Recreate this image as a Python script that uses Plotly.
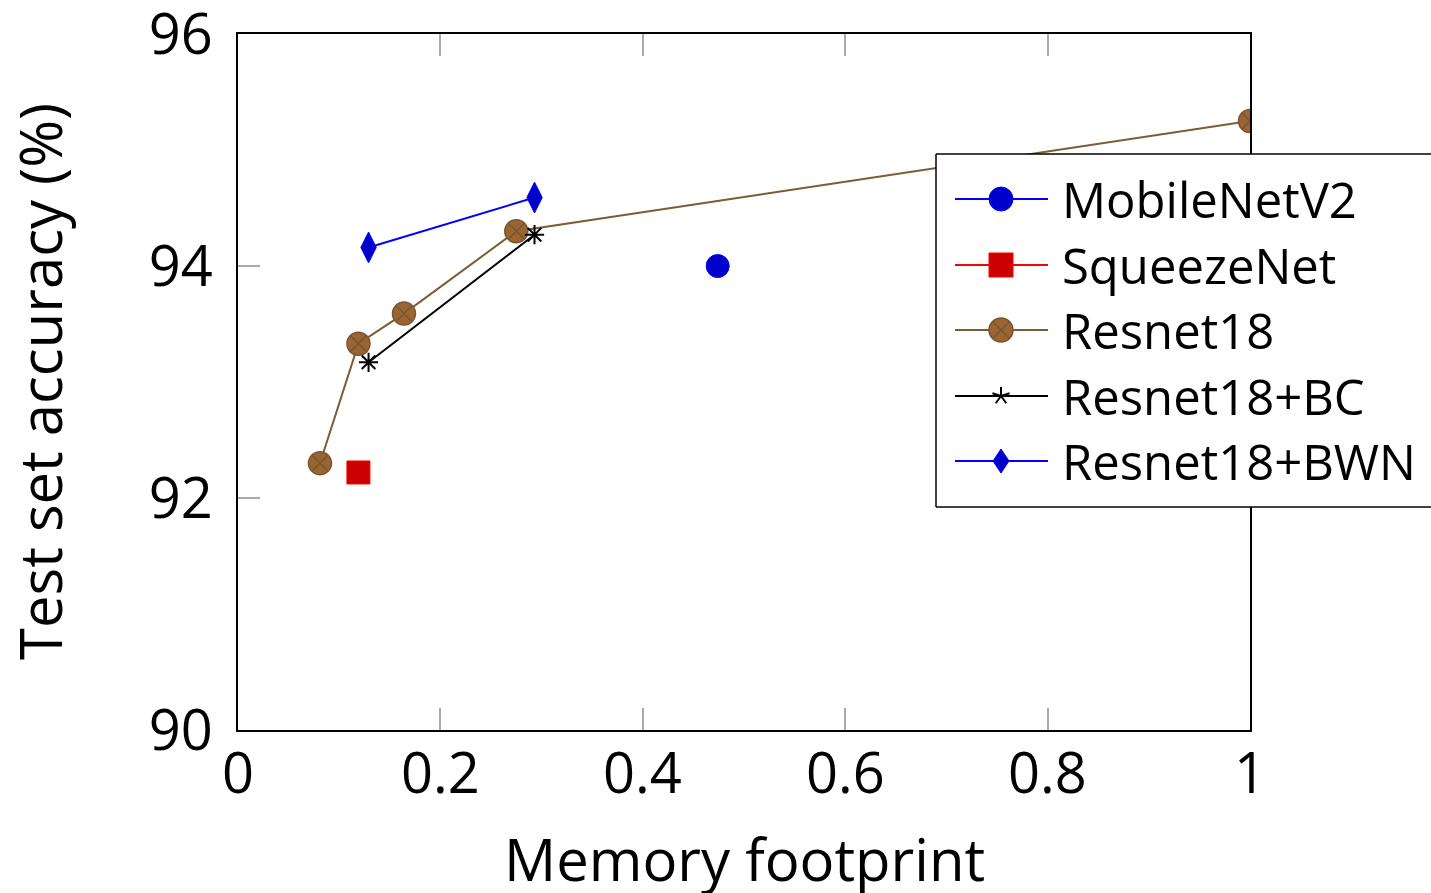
import math
import plotly.graph_objects as go

FONT = "Open Sans"

mobilenet_x = [0.474]
mobilenet_y = [94.0]
squeeze_x = [0.119]
squeeze_y = [92.22]
resnet_x = [0.081, 0.119, 0.164, 0.275, 1.0]
resnet_y = [92.30, 93.33, 93.59, 94.30, 95.25]
bc_x = [0.129, 0.293]
bc_y = [93.17, 94.27]
bwn_x = [0.129, 0.293]
bwn_y = [94.16, 94.59]

x_ticks = [0, 0.2, 0.4, 0.6, 0.8, 1]
x_ticklabels = ["0", "0.2", "0.4", "0.6", "0.8", "1"]
y_ticks = [90, 92, 94, 96]
y_ticklabels = ["90", "92", "94", "96"]

legend_names = ["MobileNetV2", "SqueezeNet", "Resnet18", "Resnet18+BC", "Resnet18+BWN"]
x_title = "Memory footprint"
y_title = "Test set accuracy (%)"

W, H = 1431, 893
# target plot box in screen pixels: x 238..1250, y 34..730
ML, MT = 238, 34
PW, PH = 1250 - 238, 730 - 34
MR = W - ML - PW
MB = H - MT - PH


def px(x):
    """screen pixel x -> paper"""
    return (x - ML) / PW


def py(y):
    """screen pixel y -> paper"""
    return (MT + PH - y) / PH


BLUE_L, BLUE_F = "#0000ff", "#0000cc"
RED_L, RED_F = "#ff0000", "#cc0000"
BROWN_L, BROWN_F, BROWN_M = "#7f5a33", "#996633", "#7a5530"

fig = go.Figure()
fig.add_trace(go.Scatter(
    x=mobilenet_x, y=mobilenet_y, name="MobileNetV2", mode="lines+markers",
    line=dict(color=BLUE_L, width=2),
    marker=dict(symbol="circle", size=23, color=BLUE_F, line=dict(color=BLUE_L, width=1))))
fig.add_trace(go.Scatter(
    x=squeeze_x, y=squeeze_y, name="SqueezeNet", mode="lines+markers",
    line=dict(color=RED_L, width=2),
    marker=dict(symbol="square", size=23, color=RED_F, line=dict(color=RED_L, width=1))))
fig.add_trace(go.Scatter(
    x=resnet_x, y=resnet_y, name="Resnet18", mode="lines+markers",
    line=dict(color=BROWN_L, width=2),
    marker=dict(symbol="circle-x", size=23, color=BROWN_F, line=dict(color=BROWN_M, width=1.5))))
fig.add_trace(go.Scatter(
    x=bc_x, y=bc_y, name="Resnet18+BC", mode="lines+markers",
    line=dict(color="#000000", width=2),
    marker=dict(symbol="asterisk-open", size=16, color="#000000", line=dict(color="#000000", width=2))))
fig.add_trace(go.Scatter(
    x=bwn_x, y=bwn_y, name="Resnet18+BWN", mode="lines+markers",
    line=dict(color=BLUE_L, width=2),
    marker=dict(symbol="diamond-tall", size=22, color=BLUE_F, line=dict(color=BLUE_L, width=1))))

# ---- custom legend (drawn on top of the plot, pgfplots style) ----
shapes = []
annotations = []
LX0, LX1, LY0, LY1 = 936, 1600, 154, 507
shapes.append(dict(type="rect", xref="paper", yref="paper", layer="above",
                   x0=px(LX0), x1=px(LX1), y0=py(LY1), y1=py(LY0),
                   fillcolor="white", line=dict(width=0)))
for (xa, ya, xb, yb) in [(LX0, LY0, LX1, LY0), (LX0, LY1, LX1, LY1), (LX0, LY0, LX0, LY1)]:
    shapes.append(dict(type="line", xref="paper", yref="paper", layer="above",
                       x0=px(xa), x1=px(xb), y0=py(ya), y1=py(yb),
                       line=dict(color="black", width=1.5)))
rows = [199, 265, 330, 396, 461]
line_cols = [BLUE_L, RED_L, BROWN_L, "#000000", BLUE_L]
cx = 1001
for name, ry, lc in zip(legend_names, rows, line_cols):
    shapes.append(dict(type="line", xref="paper", yref="paper", layer="above",
                       x0=px(955), x1=px(1048), y0=py(ry), y1=py(ry),
                       line=dict(color=lc, width=2)))
    annotations.append(dict(text=name, xref="paper", yref="paper", x=px(1060), y=py(ry),
                            xanchor="left", yanchor="middle", showarrow=False,
                            font=dict(family=FONT, size=49, color="black")))

r = 12
# MobileNetV2 circle
ry = rows[0]
shapes.append(dict(type="circle", xref="paper", yref="paper", layer="above",
                   x0=px(cx - r), x1=px(cx + r), y0=py(ry + r), y1=py(ry - r),
                   fillcolor=BLUE_F, line=dict(color=BLUE_L, width=1)))
# SqueezeNet square
ry = rows[1]
shapes.append(dict(type="rect", xref="paper", yref="paper", layer="above",
                   x0=px(cx - 12), x1=px(cx + 12), y0=py(ry + 12), y1=py(ry - 12),
                   fillcolor=RED_F, line=dict(color=RED_L, width=1)))
# Resnet18 circle with x
ry = rows[2]
shapes.append(dict(type="circle", xref="paper", yref="paper", layer="above",
                   x0=px(cx - r), x1=px(cx + r), y0=py(ry + r), y1=py(ry - r),
                   fillcolor=BROWN_F, line=dict(color=BROWN_M, width=1.5)))
d = r / math.sqrt(2)
for sx in (-1, 1):
    shapes.append(dict(type="line", xref="paper", yref="paper", layer="above",
                       x0=px(cx - d), x1=px(cx + d), y0=py(ry - sx * d), y1=py(ry + sx * d),
                       line=dict(color=BROWN_M, width=1.5)))
# Resnet18+BC star (5 arms)
ry = rows[3]
ra = 9
for k in range(5):
    ang = math.radians(90 + 72 * k)
    shapes.append(dict(type="line", xref="paper", yref="paper", layer="above",
                       x0=px(cx), x1=px(cx + ra * math.cos(ang)),
                       y0=py(ry), y1=py(ry - ra * math.sin(ang)),
                       line=dict(color="black", width=2)))
# Resnet18+BWN diamond
ry = rows[4]
path = "M {a},{b} L {c},{d} L {e},{f} L {g},{h} Z".format(
    a=px(cx), b=py(ry - 12), c=px(cx + 8), d=py(ry), e=px(cx), f=py(ry + 12), g=px(cx - 8), h=py(ry))
shapes.append(dict(type="path", xref="paper", yref="paper", layer="above", path=path,
                   fillcolor=BLUE_F, line=dict(color=BLUE_L, width=1)))

# x tick labels (placed at the tick values through the x axis)
for tv, tl in zip(x_ticks, x_ticklabels):
    annotations.append(dict(text=tl, xref="x", yref="paper", x=tv, y=py(771),
                            xanchor="center", yanchor="middle", showarrow=False,
                            font=dict(family=FONT, size=56, color="black")))

# axis titles
annotations.append(dict(text=x_title, xref="paper", yref="paper", x=px(744), y=py(858),
                        xanchor="center", yanchor="middle", showarrow=False,
                        font=dict(family=FONT, size=58, color="black")))
annotations.append(dict(text=y_title, xref="paper", yref="paper", x=px(39), y=py(382),
                        xanchor="center", yanchor="middle", showarrow=False, textangle=-90,
                        font=dict(family=FONT, size=58, color="black")))

fig.update_layout(
    width=W, height=H,
    margin=dict(l=ML, r=MR, t=MT, b=MB),
    paper_bgcolor="white", plot_bgcolor="white",
    font=dict(family=FONT, size=56, color="black"),
    showlegend=False,
    shapes=shapes,
    annotations=annotations,
)
fig.update_xaxes(
    range=[0, 1], tickvals=x_ticks, ticktext=x_ticklabels, showticklabels=False,
    showgrid=False, zeroline=False, automargin=False,
    showline=True, linecolor="black", linewidth=2, mirror="ticks",
    ticks="inside", ticklen=22, tickwidth=1.5, tickcolor="#aaaaaa",
)
fig.update_yaxes(
    range=[90, 96], tickvals=y_ticks, ticktext=y_ticklabels,
    showgrid=False, zeroline=False, automargin=False,
    showline=True, linecolor="black", linewidth=2, mirror="ticks",
    ticks="inside", ticklen=22, tickwidth=1.5, tickcolor="#aaaaaa",
    ticklabelstandoff=12, ticklabeloverflow="allow",
    tickfont=dict(family=FONT, size=56, color="black"),
)

fig.write_html(
    "out.html",
    config={"displayModeBar": False},
    post_script="document.body.style.margin='0';document.body.style.overflow='hidden';",
)
